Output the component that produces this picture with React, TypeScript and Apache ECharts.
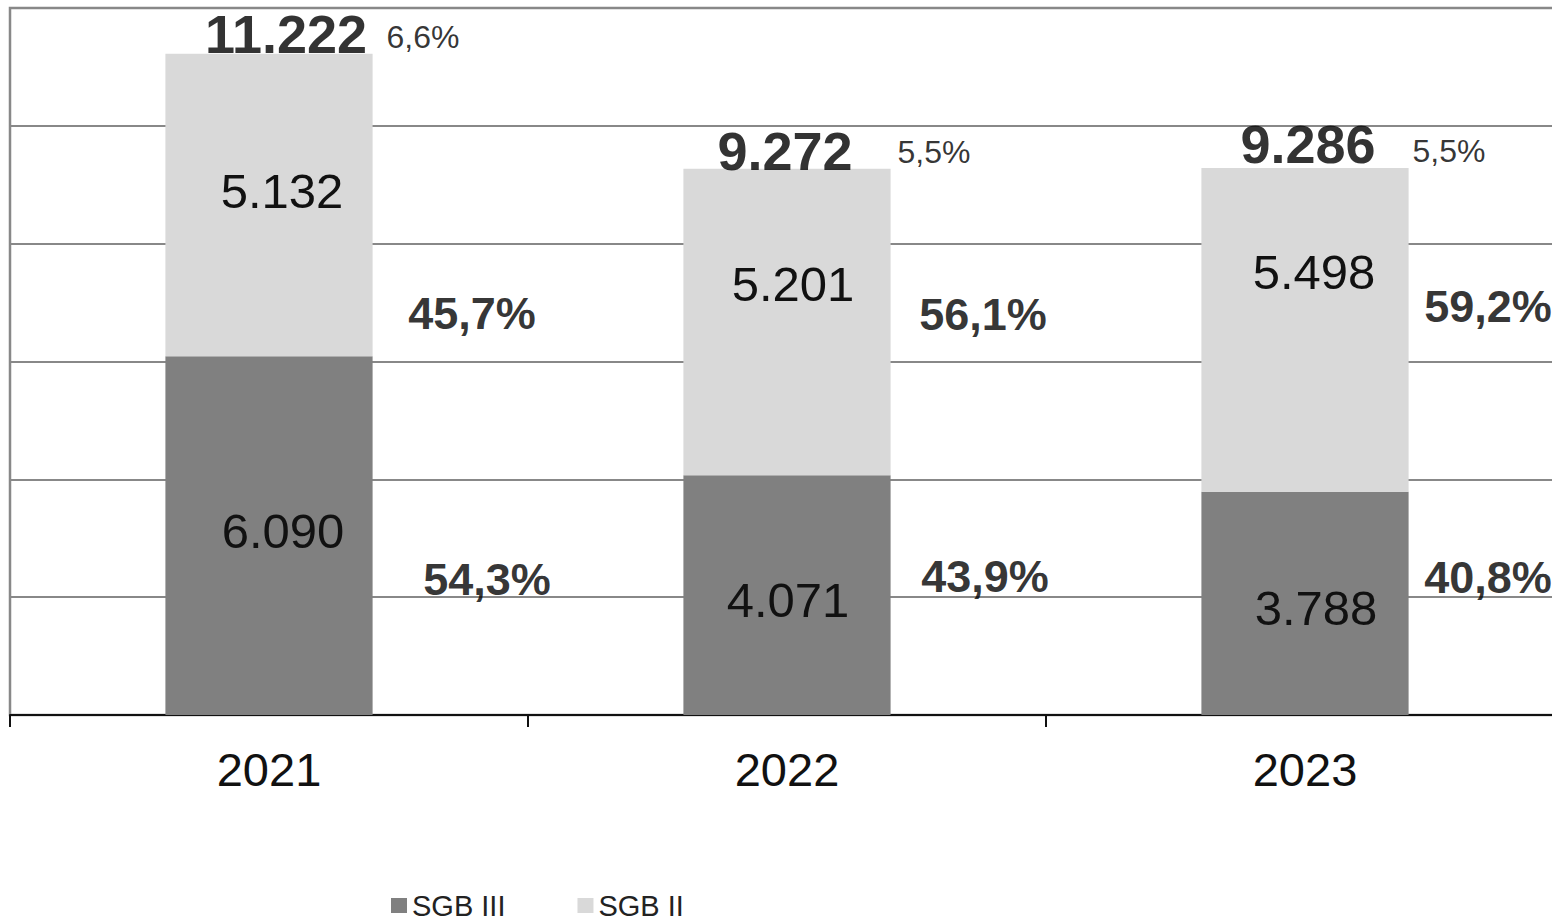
import React, { useEffect, useRef } from "react";
import * as echarts from "echarts";

const years = ["2021", "2022", "2023"];
const sgb3 = [6090, 4071, 3788];
const sgb2 = [5132, 5201, 5498];
const totals = [11222, 9272, 9286];
const shareLabels = ["6,6%", "5,5%", "5,5%"];
const pct3 = ["54,3%", "43,9%", "40,8%"];
const pct2 = ["45,7%", "56,1%", "59,2%"];

const FONT = "'Liberation Sans', Arial, sans-serif";
const fmt = (v: number) => v.toLocaleString("de-DE");

// label offsets (styling only)
const off3 = [[14, -5], [1, 5], [11, 5]];
const off2 = [[13, -14], [6, -38], [9, -58]];
const offTot = [[17, -20], [-2, -18], [3, -24]];
const offShare = [[154, -17], [147, -17], [144, -17]];
const offP3 = [[218, 44], [198, -19], [183, -26]];
const offP2 = [[203, 108], [196, -7], [183, -23]];

const noBorder = { textBorderWidth: 0, textBorderColor: "transparent" };

export default function App() {
  const ref = useRef<HTMLDivElement>(null);
  useEffect(() => {
    const chart = echarts.init(ref.current!, null, { renderer: "svg" });
    const labelBase = { fontFamily: FONT, color: "#000", ...noBorder };
    chart.setOption({
      animation: false,
      backgroundColor: "#fff",
      grid: {
        left: 10,
        top: 8,
        right: 4,
        bottom: 205,
        show: true,
        borderColor: "#888",
        borderWidth: 2.5,
      },
      legend: {
        data: [
          { name: "SGB III", itemStyle: { color: "#808080" } },
          { name: "SGB II", itemStyle: { color: "#d9d9d9" } },
        ],
        left: 386,
        top: 886,
        icon: "rect",
        itemWidth: 16,
        itemHeight: 15,
        itemGap: 72,
        textStyle: { fontFamily: FONT, fontSize: 29, color: "#222" },
      },
      xAxis: {
        type: "category",
        data: years,
        axisLine: { lineStyle: { color: "#111", width: 2 } },
        axisTick: { show: true, length: 12, lineStyle: { color: "#111", width: 2 } },
        axisLabel: { fontFamily: FONT, fontSize: 47, color: "#111", margin: 31 },
      },
      yAxis: {
        type: "value",
        min: 0,
        max: 12000,
        interval: 2000,
        axisLabel: { show: false },
        axisLine: { show: false },
        axisTick: { show: false },
        splitLine: { lineStyle: { color: "#888", width: 2 } },
      },
      series: [
        {
          name: "SGB III",
          type: "bar",
          stack: "a",
          barWidth: "40%",
          itemStyle: { color: "#808080" },
          data: sgb3.map((v, i) => ({
            value: v,
            label: { offset: off3[i] },
          })),
          label: {
            show: true,
            position: "inside",
            ...labelBase,
            color: "#111",
            fontSize: 49,
            formatter: (p: any) => fmt(p.value),
          },
        },
        {
          name: "SGB II",
          type: "bar",
          stack: "a",
          barWidth: "40%",
          itemStyle: { color: "#d9d9d9" },
          data: sgb2.map((v, i) => ({
            value: v,
            label: { offset: off2[i] },
          })),
          label: {
            show: true,
            position: "inside",
            ...labelBase,
            color: "#111",
            fontSize: 49,
            formatter: (p: any) => fmt(p.value),
          },
        },
        {
          name: "total",
          type: "scatter",
          symbolSize: 0,
          silent: true,
          data: totals.map((v, i) => ({ value: v, label: { offset: offTot[i] } })),
          label: {
            show: true,
            position: "inside",
            ...labelBase,
            fontSize: 54,
            fontWeight: "bold",
            formatter: (p: any) => fmt(p.value),
          },
        },
        {
          name: "share",
          type: "scatter",
          symbolSize: 0,
          silent: true,
          data: totals.map((v, i) => ({ value: v, label: { offset: offShare[i] } })),
          label: {
            show: true,
            position: "inside",
            ...labelBase,
            fontSize: 32,
            formatter: (p: any) => shareLabels[p.dataIndex],
          },
        },
        {
          name: "pct3",
          type: "scatter",
          symbolSize: 0,
          silent: true,
          data: sgb3.map((v, i) => ({ value: v / 2, label: { offset: offP3[i] } })),
          label: {
            show: true,
            position: "inside",
            ...labelBase,
            fontSize: 45,
            fontWeight: "bold",
            formatter: (p: any) => pct3[p.dataIndex],
          },
        },
        {
          name: "pct2",
          type: "scatter",
          symbolSize: 0,
          silent: true,
          data: sgb2.map((v, i) => ({ value: sgb3[i] + v / 2, label: { offset: offP2[i] } })),
          label: {
            show: true,
            position: "inside",
            ...labelBase,
            fontSize: 45,
            fontWeight: "bold",
            formatter: (p: any) => pct2[p.dataIndex],
          },
        },
      ],
    });
    return () => chart.dispose();
  }, []);
  return (
    <div
      ref={ref}
      style={{ position: "fixed", left: 0, top: 0, width: 1568, height: 920, background: "#fff" }}
    />
  );
}
